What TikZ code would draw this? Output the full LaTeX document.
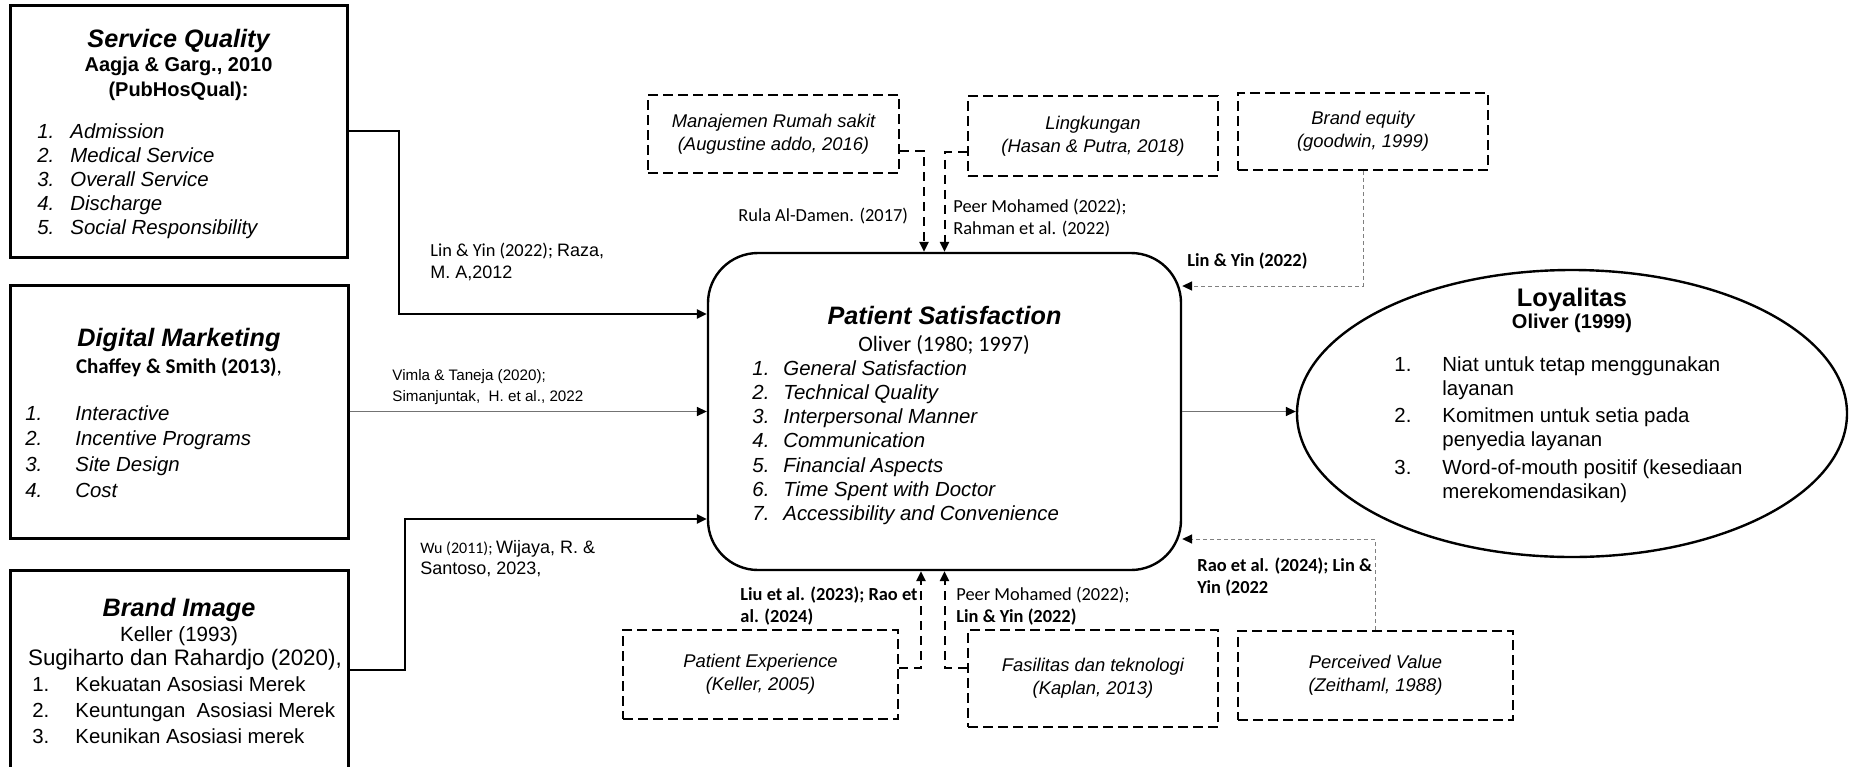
\documentclass[tikz,border=0pt]{standalone}
\usepackage{fontspec}
\setmainfont{Liberation Sans}
\newfontfamily\carlito{Carlito}
\usetikzlibrary{arrows.meta,positioning,shapes.geometric}
\newcommand\arialcite{\normalfont\fontsize{9}{10.8}\selectfont}

\begin{document}
\begin{tikzpicture}[x=0.5pt,y=-0.5pt,
    solidbox/.style={draw, line width=1.5pt, inner sep=0pt},
    dashbox/.style={draw, line width=1.4pt, dash pattern=on 5pt off 2.5pt, inner sep=0pt, align=center, font=\fontsize{9.2}{11.5}\selectfont\itshape},
    psbox/.style={draw, line width=1.2pt, rounded corners=25pt, inner sep=0pt},
    loybox/.style={draw, ellipse, line width=1.2pt, inner sep=0pt},
    boxtitle/.style={anchor=base, inner sep=0pt, font=\fontsize{12.6}{14}\selectfont\bfseries\itshape},
    boxsub/.style={anchor=base, inner sep=0pt, font=\fontsize{10}{12}\selectfont\bfseries},
    boxplain/.style={anchor=base, inner sep=0pt, font=\fontsize{10.8}{12}\selectfont},
    listit/.style={anchor=base west, inner sep=0pt, font=\fontsize{10.2}{12}\selectfont\itshape},
    listup/.style={anchor=base west, inner sep=0pt, font=\fontsize{10.2}{12}\selectfont},
    cite/.style={anchor=base west, inner sep=0pt, align=left, font=\carlito\fontsize{9.2}{10.8}\selectfont},
    mainlink/.style={-{Triangle[length=5pt,width=4.6pt]}, line width=1pt},
    thinlink/.style={-{Triangle[length=5pt,width=4.6pt,black]}, line width=0.5pt, draw=black!55},
    dashlink/.style={-{Triangle[length=5pt,width=4.6pt]}, line width=1pt, dash pattern=on 4.5pt off 3pt},
    dotlink/.style={-{Triangle[length=5pt,width=4.6pt,black]}, line width=0.5pt, draw=black!50, dash pattern=on 2pt off 1.5pt}]
    \useasboundingbox (0,0) rectangle (1857,766);

    % Left constructs
    \node[solidbox, minimum width=168.5pt, minimum height=126pt] (sq) at (178.5,131) {};
    \node[boxtitle] (sqt) at (178.5,47) {Service Quality};
    \node[boxsub] (sqa) at (178.5,71) {Aagja \& Garg., 2010};
    \node[boxsub] (sqp) at (178.5,96) {(PubHosQual):};
    \foreach \txt [count=\i] in {Admission, Medical Service, Overall Service, Discharge, Social Responsibility} {
        \node[listit] (sqn\i) at (37,{114+24*\i}) {\i.};
        \node[listit] (sqi\i) at (70,{114+24*\i}) {\txt};
    }

    \node[solidbox, minimum width=169pt, minimum height=126.5pt] (dm) at (179,411.5) {};
    \node[boxtitle] (dmt) at (179,346) {Digital Marketing};
    \node[boxplain, font=\carlito\fontsize{10.5}{12}\selectfont] (dmc) at (179,373) {\textbf{Chaffey \& Smith (2013)},};
    \foreach \txt [count=\i] in {Interactive, Incentive Programs, Site Design, Cost} {
        \node[listit] (dmn\i) at (25,{394.3+25.7*\i}) {\i.};
        \node[listit] (dmi\i) at (75,{394.3+25.7*\i}) {\txt};
    }

    \node[solidbox, minimum width=169pt, minimum height=100pt] (bi) at (179,670) {};
    \node[boxtitle] (bit) at (179,616) {Brand Image};
    \node[boxplain, font=\fontsize{10.3}{12}\selectfont] (bik) at (179,641) {Keller (1993)};
    \node[boxplain, font=\fontsize{11.2}{12}\selectfont] (bis) at (185,665) {Sugiharto dan Rahardjo (2020),};
    \foreach \txt [count=\i] in {Kekuatan Asosiasi Merek, Keuntungan\ \ Asosiasi Merek, Keunikan Asosiasi merek} {
        \node[listup] (bin\i) at (32,{665+26*\i}) {\i.};
        \node[listup] (bii\i) at (75,{665+26*\i}) {\txt};
    }

    % Central construct
    \node[psbox, minimum width=236.5pt, minimum height=158.5pt] (ps) at (944.5,411.5) {};
    \node[boxtitle] (pst) at (944.5,324) {Patient Satisfaction};
    \node[boxplain, font=\carlito\fontsize{11}{12}\selectfont] (pso) at (944,351) {Oliver (1980; 1997)};
    \foreach \txt [count=\i] in {General Satisfaction, Technical Quality, Interpersonal Manner, Communication, Financial Aspects, Time Spent with\ Doctor, Accessibility and Convenience} {
        \node[listit] (psn\i) at (752,{350.7+24.3*\i}) {\i.};
        \node[listit] (psi\i) at (783,{350.7+24.3*\i}) {\txt};
    }

    % Outcome
    \node[loybox, minimum width=275pt, minimum height=143.5pt] (lo) at (1572,413.5) {};
    \node[boxplain, font=\fontsize{12.7}{14}\selectfont\bfseries] (lot) at (1572,306) {Loyalitas};
    \node[boxsub] (loo) at (1572,328) {Oliver (1999)};
    \foreach \first/\second [count=\i] in {Niat untuk tetap menggunakan/layanan, Komitmen untuk setia pada/penyedia layanan, Word-of-mouth positif (kesediaan/merekomendasikan)} {
        \node[listup] (lon\i) at (1394,{319.5+51.5*\i}) {\i.};
        \node[listup] (loa\i) at (1442,{319.5+51.5*\i}) {\first};
        \node[listup] (lob\i) at (1442,{343.5+51.5*\i}) {\second};
    }

    % Dashed constructs
    \node[dashbox, minimum width=125.5pt, minimum height=39pt] (mrs) at (773.5,134) {Manajemen Rumah sakit\\(Augustine addo, 2016)};
    \node[dashbox, minimum width=125pt, minimum height=40pt] (lkg) at (1093,136) {Lingkungan\\(Hasan \& Putra, 2018)};
    \node[dashbox, minimum width=125pt, minimum height=38.5pt] (beq) at (1363,131.5) {Brand equity\\(goodwin, 1999)};
    \node[dashbox, minimum width=137.5pt, minimum height=44.5pt] (pex) at (760.5,674.5) {Patient Experience\\(Keller, 2005)};
    \node[dashbox, minimum width=125pt, minimum height=48.5pt] (fas) at (1093,678.5) {Fasilitas dan teknologi\\(Kaplan, 2013)};
    \node[dashbox, minimum width=137.5pt, minimum height=44.5pt] (pvl) at (1375.5,675.5) {Perceived Value\\(Zeithaml, 1988)};

    % Draw the links
    \coordinate (sqturn) at (399,314);
    \coordinate (biturn) at (405,519);
    \draw[mainlink] (sq.east) -| (sqturn) -- (sqturn -| ps.west);
    \draw[thinlink] (dm.east) -- (ps.west);
    \draw[mainlink] (bi.east) -| (biturn) -- (biturn -| ps.west);
    \draw[thinlink] (ps.east) -- (ps.east -| lo.west);
    \draw[dashlink] ([yshift=-8.5pt]mrs.east) -| ([xshift=-10.25pt]ps.north);
    \draw[dashlink] ([yshift=-8pt]lkg.west) -| (ps.north);
    \draw[dashlink] ([yshift=3.25pt]pex.east) -| ([xshift=-11.75pt]ps.south);
    \draw[dashlink] ([yshift=5.25pt]fas.west) -| (ps.south);
    \draw[dotlink] (beq.south) |- ([yshift=62.75pt]ps.east);
    \draw[dotlink] (pvl.north) |- ([yshift=-63.75pt]ps.east);

    % Link labels (base = last line)
    \node[cite] (c1) at (430,278.5) {Lin \& Yin (2022); {\arialcite Raza,}\\{\arialcite M. A,2012}};
    \node[cite, font=\normalfont\fontsize{7.6}{10.5}\selectfont] (c2) at (392,401) {Vimla \& Taneja (2020);\\Simanjuntak,\ \ H. et al., 2022};
    \node[cite, font=\carlito\fontsize{8}{10.5}\selectfont] (c3) at (420,574) {Wu (2011); {\arialcite Wijaya, R. \&}\\{\arialcite Santoso, 2023,}};
    \node[cite] (c4) at (738,221) {Rula Al-Damen. (2017)};
    \node[cite] (c5) at (953,234.5) {Peer Mohamed (2022);\\Rahman et al. (2022)};
    \node[cite, font=\carlito\fontsize{9.2}{10.8}\selectfont\bfseries] (c6) at (1187,266) {Lin \& Yin (2022)};
    \node[cite, font=\carlito\fontsize{9.2}{10.8}\selectfont\bfseries] (c7) at (1197,593.5) {Rao et al. (2024); Lin \&\\Yin (2022};
    \node[cite, font=\carlito\fontsize{9.2}{10.8}\selectfont\bfseries] (c8) at (740,622.5) {Liu et al. (2023); Rao et\\al. (2024)};
    \node[cite] (c9) at (956,622.5) {Peer Mohamed (2022);\\\textbf{Lin \& Yin (2022)}};
\end{tikzpicture}
\end{document}
